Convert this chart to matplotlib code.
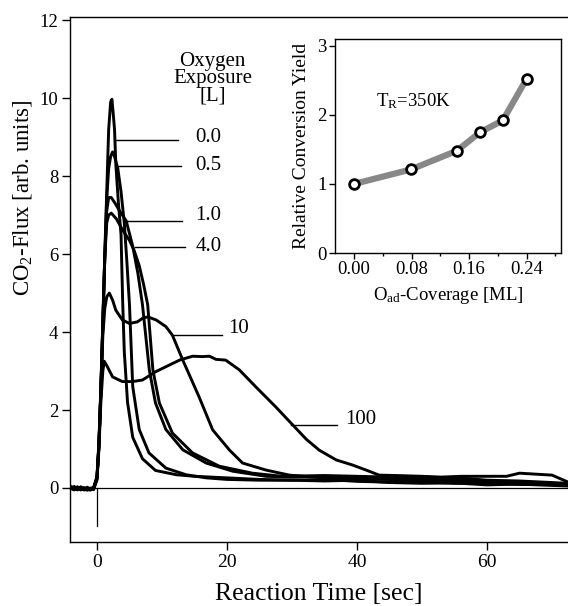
import matplotlib
matplotlib.use("Agg")
import matplotlib.pyplot as plt

plt.rcParams['font.family'] = ['Liberation Serif', 'DejaVu Serif']
plt.rcParams['mathtext.fontset'] = 'custom'
plt.rcParams['mathtext.rm'] = 'Liberation Serif'
plt.rcParams['mathtext.it'] = 'Liberation Serif:italic'

# ---------------- data: CO2 flux transients ----------------
t_00 = [-4.2, -3.5, -3.0, -2.5, -2.0, -1.5, -1.0, -0.5, 0.0, 0.3, 0.6, 0.9, 1.2, 1.5, 1.8, 2.1, 2.3, 2.5, 2.7, 2.9,
        3.3, 3.7, 3.95, 4.2, 4.7, 5.5, 7.0, 9.0, 12.2, 15, 20, 25, 30, 35, 40, 45, 50, 55, 60, 65, 72.5]
y_00 = [0.06, -0.02, 0.03, -0.04, -0.03, -0.05, -0.02, 0.02, 0.3, 1.2, 2.6, 4.3, 6.0, 7.6, 9.2, 9.9, 9.97, 9.6, 9.2, 8.3,
        7.3, 6.5, 4.8, 3.5, 2.2, 1.3, 0.75, 0.45, 0.34, 0.3, 0.26, 0.22, 0.2, 0.18, 0.2, 0.14, 0.12, 0.13, 0.08, 0.1, 0.05]

t_05 = [-4.2, -3.5, -3.0, -2.5, -2.0, -1.5, -1.0, -0.5, 0.0, 0.3, 0.6, 0.9, 1.2, 1.5, 1.8, 2.1, 2.4, 2.7, 3.2, 3.7,
        4.2, 4.6, 5.0, 5.5, 6.5, 8.0, 10.6, 13.7, 16.8, 20, 25, 30, 35, 40, 45, 50, 55, 60, 65, 72.5]
y_05 = [0.03, 0.0, -0.04, 0.02, -0.05, -0.02, -0.04, 0.0, 0.25, 1.1, 2.5, 4.2, 5.9, 7.4, 8.2, 8.5, 8.62, 8.5, 8.2, 7.6,
        6.8, 5.8, 4.7, 2.6, 1.5, 0.9, 0.51, 0.34, 0.26, 0.22, 0.2, 0.2, 0.22, 0.17, 0.15, 0.16, 0.12, 0.13, 0.09, 0.08]

t_10 = [-4.2, -3.5, -3.0, -2.5, -2.0, -1.5, -1.0, -0.5, 0.0, 0.3, 0.6, 0.9, 1.2, 1.5, 1.8, 2.2, 2.8, 3.5, 4.5, 5.5,
        6.3, 7.0, 8.05, 9.0, 10.6, 13.2, 16.8, 20.9, 26, 30, 35, 40, 45, 50, 55, 60, 65, 72.5]
y_10 = [-0.02, 0.04, -0.03, 0.0, -0.04, -0.05, 0.0, -0.02, 0.25, 1.1, 2.5, 4.2, 5.9, 7.1, 7.45, 7.45, 7.3, 7.1, 6.85, 6.2,
        5.5, 4.7, 3.03, 2.18, 1.5, 0.98, 0.64, 0.43, 0.3, 0.28, 0.3, 0.25, 0.22, 0.2, 0.22, 0.15, 0.14, 0.1]

t_40 = [-4.2, -3.5, -3.0, -2.5, -2.0, -1.5, -1.0, -0.5, 0.0, 0.3, 0.6, 0.9, 1.2, 1.5, 1.8, 2.2, 3.0, 4.0, 5.0, 5.7,
        6.5, 7.2, 7.8, 8.6, 9.6, 11.6, 14.7, 18.8, 23.9, 28.5, 35, 40, 45, 50, 55, 60, 65, 72.5]
y_40 = [0.0, -0.05, 0.02, -0.03, 0.01, -0.04, -0.05, 0.01, 0.25, 1.1, 2.5, 4.2, 5.9, 6.8, 7.0, 7.05, 6.9, 6.6, 6.35, 6.1,
        5.7, 5.2, 4.7, 3.03, 2.18, 1.41, 0.9, 0.56, 0.38, 0.3, 0.32, 0.3, 0.28, 0.25, 0.27, 0.2, 0.18, 0.12]

t_100e = [-4.2, -3.5, -3.0, -2.5, -2.0, -1.5, -1.0, -0.5, 0.0, 0.3, 0.6, 0.9, 1.2, 1.5, 1.9, 2.4, 2.9, 3.9, 5.0, 6.2,
          7.0, 7.8, 9.1, 10.6, 11.6, 13.2, 15.7, 17.8, 20.4, 22.4, 26, 29.6, 32.7, 36, 40, 45, 50, 55, 60, 65, 72.5]
y_100e = [0.04, -0.03, 0.0, -0.05, -0.02, 0.02, -0.03, -0.04, 0.25, 1.1, 2.5, 3.9, 4.6, 4.9, 5.0, 4.82, 4.56, 4.31, 4.22, 4.26,
          4.35, 4.39, 4.31, 4.14, 3.92, 3.28, 2.34, 1.49, 0.97, 0.64, 0.46, 0.33, 0.29, 0.25, 0.26, 0.22, 0.2, 0.18, 0.17, 0.12, 0.1]

t_1000 = [-4.2, -3.5, -3.0, -2.5, -2.0, -1.5, -1.0, -0.5, 0.0, 0.3, 0.6, 0.9, 1.12, 1.6, 2.4, 3.9, 5.5, 7.0, 9.0, 10.6,
          12.7, 14.7, 16.2, 17.3, 18.3, 19.8, 21.9, 24.4, 27.5, 30.1, 32.2, 34.2, 36.8, 39.3, 41.4, 43.4, 46, 50, 53, 56,
          60, 63, 65, 68, 70, 72.5]
y_1000 = [-0.03, 0.02, -0.05, 0.03, -0.01, -0.03, -0.05, 0.0, 0.2, 1.0, 2.2, 3.0, 3.25, 3.11, 2.85, 2.73, 2.73, 2.77, 2.98, 3.11,
          3.28, 3.38, 3.37, 3.38, 3.3, 3.28, 3.03, 2.6, 2.08, 1.62, 1.25, 0.97, 0.72, 0.59, 0.46, 0.33, 0.32, 0.3, 0.28, 0.3,
          0.3, 0.3, 0.38, 0.35, 0.33, 0.15]

series_t = [t_00, t_05, t_10, t_40, t_100e, t_1000]
series_y = [y_00, y_05, y_10, y_40, y_100e, y_1000]

# exposure labels: text, curve anchor (x, y), line end x, text x, text y
exp_labels = ["0.0", "0.5", "1.0", "4.0", "10", "100"]
anchor_x = [2.77, 3.23, 4.62, 5.85, 11.7, 29.8]
anchor_y = [8.92, 8.26, 6.85, 6.18, 3.93, 1.61]
line_end_x = [12.46, 12.92, 13.08, 13.54, 19.23, 36.9]
text_x = [15.1, 15.1, 15.1, 15.1, 20.15, 38.15]
text_y = [8.99, 8.28, 7.0, 6.19, 4.1, 1.75]

# ---------------- inset data ----------------
coverage = [0.00, 0.079, 0.143, 0.1755, 0.207, 0.24]
rel_yield = [1.0, 1.21, 1.48, 1.75, 1.92, 2.52]

# ---------------- figure ----------------
fig = plt.figure(figsize=(5.68, 6.06), dpi=100)
ax = fig.add_axes([70/568, 1-542/606, 1-70/568, (542-17)/606])

for t, y in zip(series_t, series_y):
    ax.plot(t, y, color='black', lw=2.1, solid_joinstyle='round', zorder=3)

ax.axhline(0, color='black', lw=0.9, zorder=2)
ax.plot([0, 0], [0, -0.97], color='black', lw=0.9, zorder=2)

ax.set_xlim(-4.15, 72.46)
ax.set_ylim(-1.385, 12.08)
ax.set_xticks([0, 20, 40, 60])
ax.set_yticks([0, 2, 4, 6, 8, 10, 12])
ax.spines['right'].set_visible(False)
for s in ['left', 'top', 'bottom']:
    ax.spines[s].set_linewidth(1.0)
ax.tick_params(axis='both', direction='out', length=5.5, width=1.0, labelsize=14, pad=3)
ax.tick_params(axis='y', labelsize=13.5)
ax.set_xlabel('Reaction Time [sec]', fontsize=18.5, labelpad=9)
ax.set_ylabel('CO$_\\mathregular{2}$-Flux [arb. units]', fontsize=16.5)
ax.yaxis.set_label_coords(-0.072, 0.655)

for lab, ax_, ay_, lx, tx, ty in zip(exp_labels, anchor_x, anchor_y, line_end_x, text_x, text_y):
    ax.plot([ax_, lx], [ay_, ay_], color='black', lw=1.0, zorder=4)
    ax.text(tx, ty, lab, fontsize=15, ha='left', va='center')

ax.text(17.8, 10.5, 'Oxygen\nExposure\n[L]', fontsize=15, ha='center', va='center',
        multialignment='center', linespacing=0.9)

# ---------------- inset ----------------
ins = fig.add_axes([335/568, 1-253/606, (561-335)/568, (253-39)/606])
ins.plot(coverage, rel_yield, color='#888888', lw=4.5, solid_capstyle='round', zorder=2)
ins.plot(coverage, rel_yield, linestyle='none', marker='o', ms=7, mfc='white', mec='black', mew=2.0, zorder=3)
ins.set_xlim(-0.0265, 0.288)
ins.set_ylim(0, 3.1)
ins.set_xticks([0.00, 0.08, 0.16, 0.24])
ins.set_xticklabels(['0.00', '0.08', '0.16', '0.24'])
ins.set_xticks([0.04, 0.12, 0.20, 0.28], minor=True)
ins.set_yticks([0, 1, 2, 3])
for s in ins.spines.values():
    s.set_linewidth(1.0)
ins.tick_params(axis='both', which='major', direction='out', length=4, width=1.0, labelsize=13.5, pad=2)
ins.tick_params(axis='x', which='minor', direction='out', length=2.5, width=1.0)
ins.set_xlabel('O$_\\mathregular{ad}$-Coverage [ML]', fontsize=13.5, labelpad=5)
ins.set_ylabel('Relative Conversion Yield', fontsize=14, labelpad=5)
ins.text(0.03, 2.2, 'T$_\\mathregular{R}$=350K', fontsize=13.5, ha='left', va='center')

fig.savefig('out.png', dpi=100)
